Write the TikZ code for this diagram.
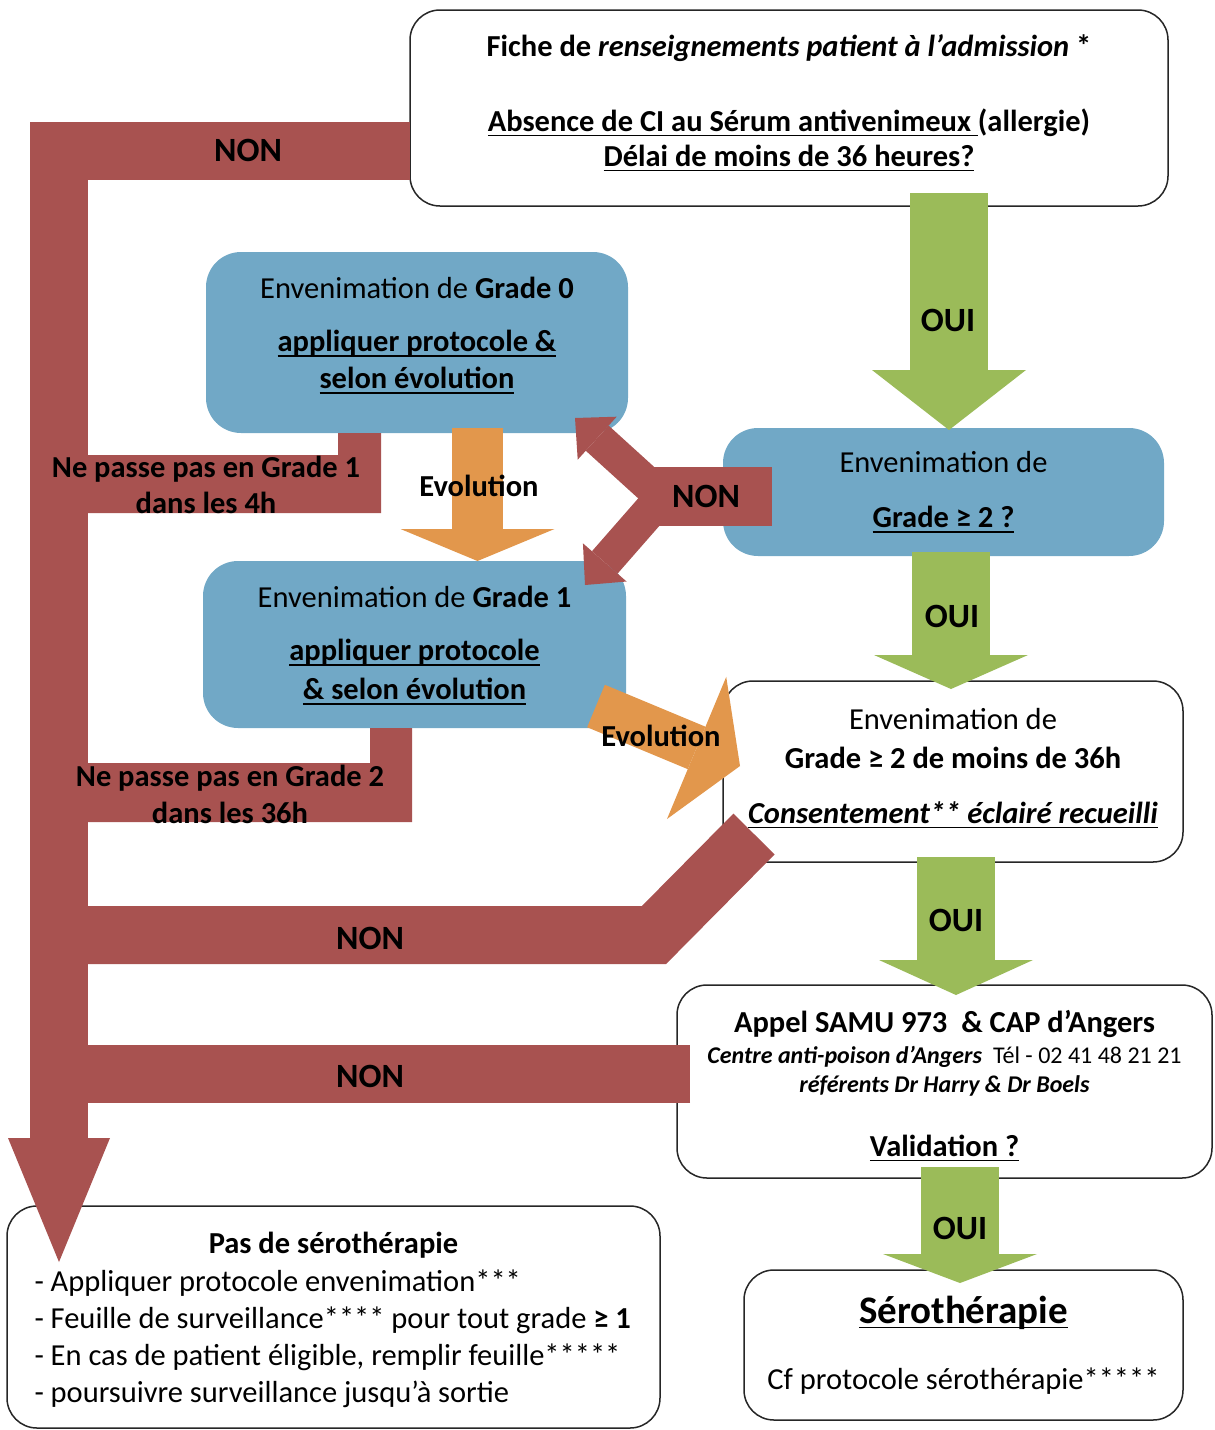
\documentclass[tikz,border=0pt]{standalone}
\usepackage{fontspec}
\setmainfont{Carlito}
\usetikzlibrary{positioning,arrows.meta}
\newcommand{\souligne}[1]{\setbox0\hbox{#1}\leavevmode\rlap{\rule[-5pt]{\wd0}{1.5pt}}\box0}
\definecolor{nonred}{RGB}{168,82,80}
\definecolor{gradeblue}{RGB}{113,168,198}
\definecolor{ouigreen}{RGB}{155,187,89}
\definecolor{evolorange}{RGB}{226,151,76}
\def\bandGradeUn{(338,433) -- (381,433) -- (381,513) -- (88,513) -- (88,455) -- (338,455) -- cycle}
\def\bandGradeDeux{(370,728) -- (412,728) -- (412,822) -- (88,822) -- (88,763) -- (370,763) -- cycle}
\tikzset{
whitebox/.style={draw=black!85, line width=1.5pt, fill=white, rounded corners=30pt, inner sep=0pt, outer sep=0pt},
bluebox/.style={fill=gradeblue, rounded corners=35pt, inner sep=0pt, outer sep=0pt},
boxtxt/.style={align=center, inner sep=0pt},
nonband/.style={draw=nonred, line width=58pt, line join=miter},
forkarrow/.style={draw=nonred, line width=34pt, -{Triangle[length=30pt,width=58pt,line width=0pt]}},
ouiarrow/.style={draw=ouigreen, line width=78pt, -{Triangle[length=#1,width=154pt,line width=0pt]}},
evoldown/.style={draw=evolorange, line width=51pt, -{Triangle[length=32pt,width=154pt,line width=0pt]}},
evoldiag/.style={draw=evolorange, line width=46pt, -{Triangle[length=47pt,width=154pt,line width=0pt]}},
lbl/.style={font=\fontsize{34}{40}\selectfont\bfseries, inner sep=0pt},
bandlbl/.style={font=\fontsize{30.5}{36.5}\selectfont\bfseries, align=center, inner sep=0pt}
}

\begin{document}
\begin{tikzpicture}[x=1pt,y=-1pt,font=\fontsize{30.5}{36}\selectfont]
	\useasboundingbox (0,0) rectangle (1215,1430);
	% boites
	\node[whitebox, minimum width=758pt, minimum height=196pt] (admission) at (789,108) {};
	\node[bluebox, minimum width=422pt, minimum height=181pt] (grade0) at (417,342.5) {};
	\node[bluebox, minimum width=441pt, minimum height=128pt] (grade2) at (943.5,492) {};
	\node[bluebox, minimum width=423pt, minimum height=167pt] (grade1) at (414.5,644.5) {};
	\node[whitebox, minimum width=460pt, minimum height=181pt] (consent) at (953,771.5) {};
	\node[whitebox, minimum width=535pt, minimum height=193pt] (samu) at (944.5,1081.5) {};
	\node[whitebox, minimum width=439pt, minimum height=150pt] (sero) at (963.5,1345) {};
	\node[whitebox, minimum width=653pt, minimum height=222pt] (passero) at (333.5,1317) {};
	% textes des boites
	\node[boxtxt] (admissiontxt) at ([yshift=5pt]admission.center)
		{\textbf{Fiche de \textit{renseignements patient à l’admission} *}\\[39pt]
		\textbf{\souligne{Absence de CI au Sérum antivenimeux }(allergie)}\\[-1pt]
		\textbf{\souligne{Délai de moins de 36 heures?}}};
	\node[boxtxt] (grade0txt) at ([yshift=7pt]grade0.center)
		{Envenimation de \textbf{Grade 0}\\[17pt]
		\textbf{\souligne{appliquer protocole \&}}\\[1pt]
		\textbf{\souligne{selon évolution}}};
	\node[boxtxt] (grade2txt) at (grade2.center)
		{Envenimation de\\[19pt]
		\textbf{\souligne{Grade ≥ 2 ?}}};
	\node[boxtxt] (grade1txt) at ([yshift=-1pt]grade1.center)
		{Envenimation de \textbf{Grade 1}\\[17pt]
		\textbf{\souligne{appliquer protocole}}\\[3pt]
		\textbf{\souligne{\& selon évolution}}};
	\node[boxtxt] (consenttxt) at ([yshift=3.5pt]consent.center)
		{Envenimation de\\[3pt]
		\textbf{Grade ≥ 2 de moins de 36h}\\[19pt]
		\textbf{\textit{\souligne{Consentement** éclairé recueilli}}}};
	\node[boxtxt] (samutxt) at ([yshift=-4pt]samu.center)
		{\textbf{Appel SAMU 973 \ \& CAP d’Angers}\\[-5pt]
		{\fontsize{24}{30}\selectfont\textbf{\textit{Centre anti-poison d’Angers}} \ Tél - 02 41 48 21 21}\\[-7pt]
		{\fontsize{24}{30}\selectfont\textbf{\textit{référents Dr Harry \& Dr Boels}}}\\[28pt]
		\textbf{\souligne{Validation ?}}};
	\node[boxtxt] (serotxt) at (sero.center)
		{{\fontsize{39}{46}\selectfont\textbf{\souligne{Sérothérapie}}}\\[30pt]
		Cf protocole sérothérapie*****};
	\node[boxtxt, align=left, font=\fontsize{30.5}{37}\selectfont] (passerotxt) at ([yshift=-3pt]passero.center)
		{\makebox[598pt]{\textbf{Pas de sérothérapie}}\\[1pt]
		- Appliquer protocole envenimation***\\
		- Feuille de surveillance**** pour tout grade \textbf{≥ 1}\\
		- En cas de patient éligible, remplir feuille*****\\
		- poursuivre surveillance jusqu’à sortie};
	% bandes NON
	\coordinate (nonStart) at (410,150.5);
	\coordinate (nonTip) at (59,1262);
	\draw[nonband, -{Triangle[length=124pt,width=102pt,line width=0pt]}] (nonStart) -| (nonTip);
	\fill[nonred] \bandGradeUn;
	\fill[nonred] \bandGradeDeux;
	\coordinate (consNon) at (754,834);
	\coordinate (consKnee) at (654,935);
	\draw[nonband] (consNon) -- (consKnee) -- (consKnee -| nonTip);
	\coordinate (samuNon) at (690,1074);
	\draw[nonband] (samuNon) -- (samuNon -| nonTip);
	% fourche NON
	\coordinate (forkc) at (662,497);
	\coordinate (forkUp) at (575,418);
	\coordinate (forkDown) at (585,585);
	\draw[forkarrow] (forkc) -- (forkUp);
	\draw[forkarrow] (forkc) -- (forkDown);
	\node[fill=nonred, minimum width=132pt, minimum height=59pt, inner sep=0pt, font=\fontsize{34}{40}\selectfont\bfseries] (fork) at (706,496.5) {NON};
	% evolution
	\coordinate (evA) at (477.5,428);
	\draw[evoldown] (evA) -- (evA |- grade1.north);
	\coordinate (evB) at (596,706);
	\coordinate (evBtip) at (740,766);
	\draw[evoldiag] (evB) -- (evBtip);
	% OUI
	\coordinate (ouiA) at (949,193);
	\coordinate (ouiAtip) at (949,430);
	\coordinate (ouiB) at (951,552);
	\coordinate (ouiBtip) at (951,689);
	\coordinate (ouiC) at (956,857);
	\coordinate (ouiCtip) at (956,995);
	\coordinate (ouiD) at (960,1167);
	\coordinate (ouiDtip) at (960,1283);
	\draw[ouiarrow=60pt] (ouiA) -- (ouiAtip);
	\draw[ouiarrow=34pt] (ouiB) -- (ouiBtip);
	\draw[ouiarrow=35pt] (ouiC) -- (ouiCtip);
	\draw[ouiarrow=29pt] (ouiD) -- (ouiDtip);
	% textes
	\node[lbl] (nonA) at (248,150) {NON};
	\node[lbl] (nonC) at (370,938) {NON};
	\node[lbl] (nonD) at (370,1076) {NON};
	\node[bandlbl] (ngUn) at (206,485) {Ne passe pas en Grade 1\\dans les 4h};
	\node[bandlbl] (ngDeux) at (230,794.5) {Ne passe pas en Grade 2\\dans les 36h};
	\node[bandlbl] (evolA) at (479,486) {Evolution};
	\node[bandlbl] (evolB) at (661,736) {Evolution};
	\node[lbl] (ouiLa) at (948,320) {OUI};
	\node[lbl] (ouiLb) at (952,616) {OUI};
	\node[lbl] (ouiLc) at (956,920) {OUI};
	\node[lbl] (ouiLd) at (960,1228) {OUI};
\end{tikzpicture}
\end{document}
